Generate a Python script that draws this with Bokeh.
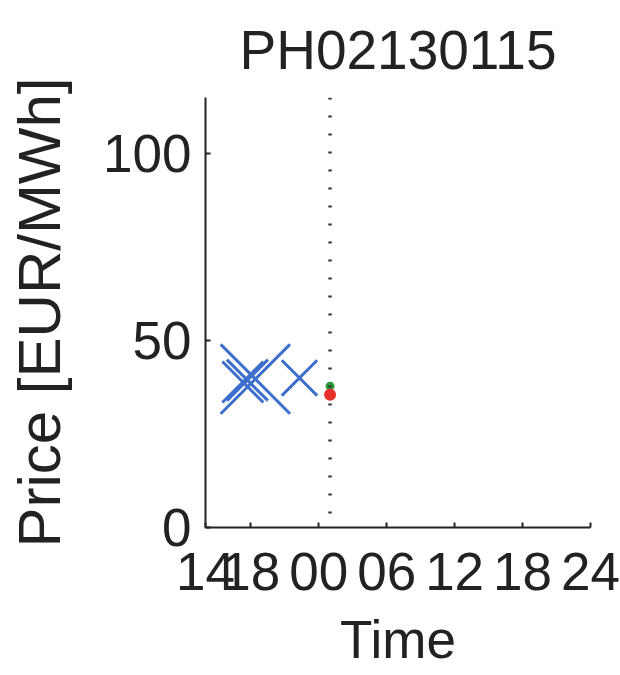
from bokeh.plotting import figure
from bokeh.models import FixedTicker, Span, Range1d
from bokeh.embed import file_html
from bokeh.resources import INLINE

# ---- data ----
title_text = "PH02130115"
x_ticks = [14, 18, 24, 30, 36, 42, 48]
x_tick_labels = ["14", "18", "00", "06", "12", "18", "24"]
y_ticks = [0, 50, 100]

bid_hours = [17.3, 17.7, 18.4, 22.3]
bid_prices = [38.9, 39.4, 39.7, 40.0]

red_hour = [25.0]
red_price = [35.5]
green_hour = [25.0]
green_price = [37.8]

delivery_hour = 25.0

# ---- styles ----
bid_marker_sizes = [58, 58, 98, 50]
FONT = "Liberation Sans"

p = figure(width=620, height=675, output_backend="svg", toolbar_location=None,
           x_range=Range1d(14, 48), y_range=Range1d(0, 115),
           min_border_left=205, min_border_right=30, min_border_top=97,
           min_border_bottom=148, title=title_text)

p.background_fill_color = "white"
p.border_fill_color = "white"
p.outline_line_color = None
p.grid.visible = False

p.title.text_font = FONT
p.title.text_font_size = "55px"
p.title.text_font_style = "normal"
p.title.align = "center"
p.title.text_color = "#222222"
p.title.standoff = 33

for ax in (p.xaxis[0], p.yaxis[0]):
    ax.axis_line_width = 2
    ax.axis_line_color = "#222222"
    ax.major_tick_in = 5
    ax.major_tick_out = 0
    ax.major_tick_line_width = 2
    ax.major_tick_line_color = "#222222"
    ax.minor_tick_line_color = None
    ax.major_label_text_font = FONT
    ax.major_label_text_font_size = "53px"
    ax.major_label_text_color = "#222222"
    ax.axis_label_text_font = FONT
    ax.axis_label_text_font_style = "normal"
    ax.axis_label_text_color = "#222222"

p.xaxis.axis_label_text_font_size = "53px"
p.yaxis.axis_label_text_font_size = "60px"

p.xaxis.ticker = FixedTicker(ticks=x_ticks)
p.xaxis.major_label_overrides = {t: l for t, l in zip(x_ticks, x_tick_labels)}
p.yaxis.ticker = FixedTicker(ticks=y_ticks)
p.xaxis.axis_label = "Time"
p.yaxis.axis_label = "Price [EUR/MWh]"
p.xaxis.major_label_standoff = 25
p.yaxis.major_label_standoff = 14
p.xaxis.axis_label_standoff = 17
p.yaxis.axis_label_standoff = 27

p.add_layout(Span(location=delivery_hour, dimension="height", line_color="#333333",
                  line_width=3.5, line_dash="2 16"))

p.scatter(bid_hours, bid_prices, marker="x", size=bid_marker_sizes,
          line_color="#3d6fcc", line_width=3)
p.scatter(green_hour, green_price, marker="circle", size=9,
          fill_color="#2e9a3a", line_color=None)
p.scatter(red_hour, red_price, marker="circle", size=12,
          fill_color="#e8302a", line_color=None)

open("out.html", "w").write(file_html(p, INLINE))
